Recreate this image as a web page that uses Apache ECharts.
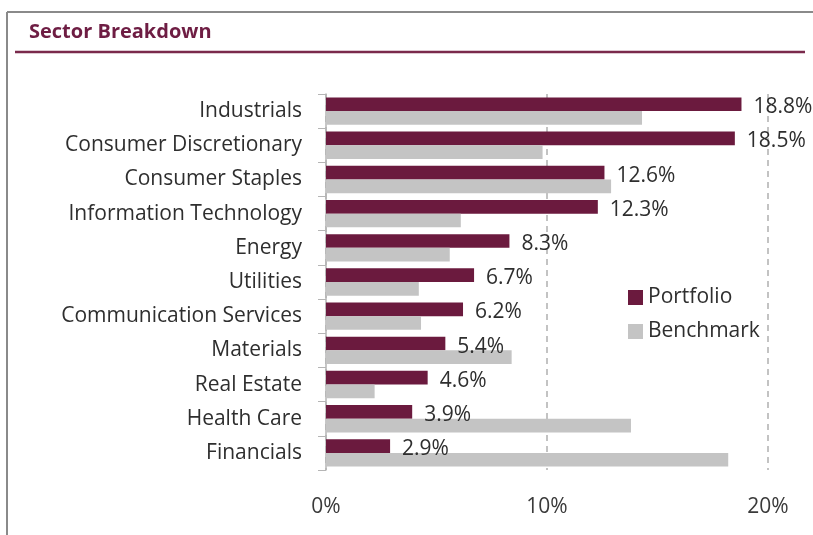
<!DOCTYPE html>
<html>
<head>
<meta charset="utf-8">
<script src="https://cdn.jsdelivr.net/npm/echarts@6/dist/echarts.min.js"></script>
<style>html,body{margin:0;padding:0;background:#fff;}#c{width:813px;height:535px;}</style>
</head>
<body>
<div id="c"></div>
<script>
const categories = ["Industrials","Consumer Discretionary","Consumer Staples","Information Technology","Energy","Utilities","Communication Services","Materials","Real Estate","Health Care","Financials"];
const portfolio = [18.8,18.5,12.6,12.3,8.3,6.7,6.2,5.4,4.6,3.9,2.9];
const benchmark = [14.3,9.8,12.9,6.1,5.6,4.2,4.3,8.4,2.2,13.8,18.2];
const xTicks = [0,10,20];
const FONT = "Open Sans";
const chart = echarts.init(document.getElementById('c'));
chart.setOption({
  animation:false,
  textStyle:{fontFamily:FONT},
  graphic:[
    {type:'line',shape:{x1:7,y1:12,x2:813,y2:12},style:{stroke:'#8a8a8a',lineWidth:2}},
    {type:'line',shape:{x1:7,y1:12,x2:7,y2:535},style:{stroke:'#8a8a8a',lineWidth:2}},
    {type:'text',left:29,top:22,style:{text:'Sector Breakdown',fill:'#6e1d43',font:'bold 20px '+FONT}},
    {type:'line',shape:{x1:15,y1:52,x2:805,y2:52},style:{stroke:'#7a2a4c',lineWidth:2.5}}
  ],
  legend:{
    orient:'vertical',left:623,top:282,itemWidth:15,itemHeight:15,itemGap:13,
    icon:'rect',
    textStyle:{fontSize:21,color:'#2e2e2e',fontFamily:FONT},
    data:['Portfolio','Benchmark']
  },
  grid:{left:326,right:45,top:94,bottom:65,containLabel:false},
  xAxis:{
    type:'value',min:0,max:20,interval:10,
    axisLine:{show:false},axisTick:{show:false},
    axisLabel:{formatter:v=>xTicks.includes(v)?v+'%':'',fontSize:21,color:'#3a3a3a',margin:27},
    splitLine:{show:true,lineStyle:{type:[6,5],color:'#b0b0b0',width:1.5}}
  },
  yAxis:{
    type:'category',data:categories,inverse:true,
    axisLine:{show:true,lineStyle:{color:'#b5b5b5',width:1.5}},
    axisTick:{show:true,length:8,lineStyle:{color:'#b5b5b5'}},
    axisLabel:{fontSize:21,color:'#2e2e2e',margin:24,padding:[4,0,0,0]}
  },
  series:[
    {name:'Portfolio',type:'bar',data:portfolio,barGap:'0%',barCategoryGap:'20%',
     itemStyle:{color:'#6b1a3e'},
     label:{show:true,position:'right',distance:12,offset:[0,3],formatter:p=>p.value.toFixed(1)+'%',fontSize:21,color:'#2e2e2e',fontFamily:FONT}},
    {name:'Benchmark',type:'bar',data:benchmark,barGap:'0%',barCategoryGap:'20%',
     itemStyle:{color:'#c4c4c4'}}
  ]
});
</script>
</body>
</html>
